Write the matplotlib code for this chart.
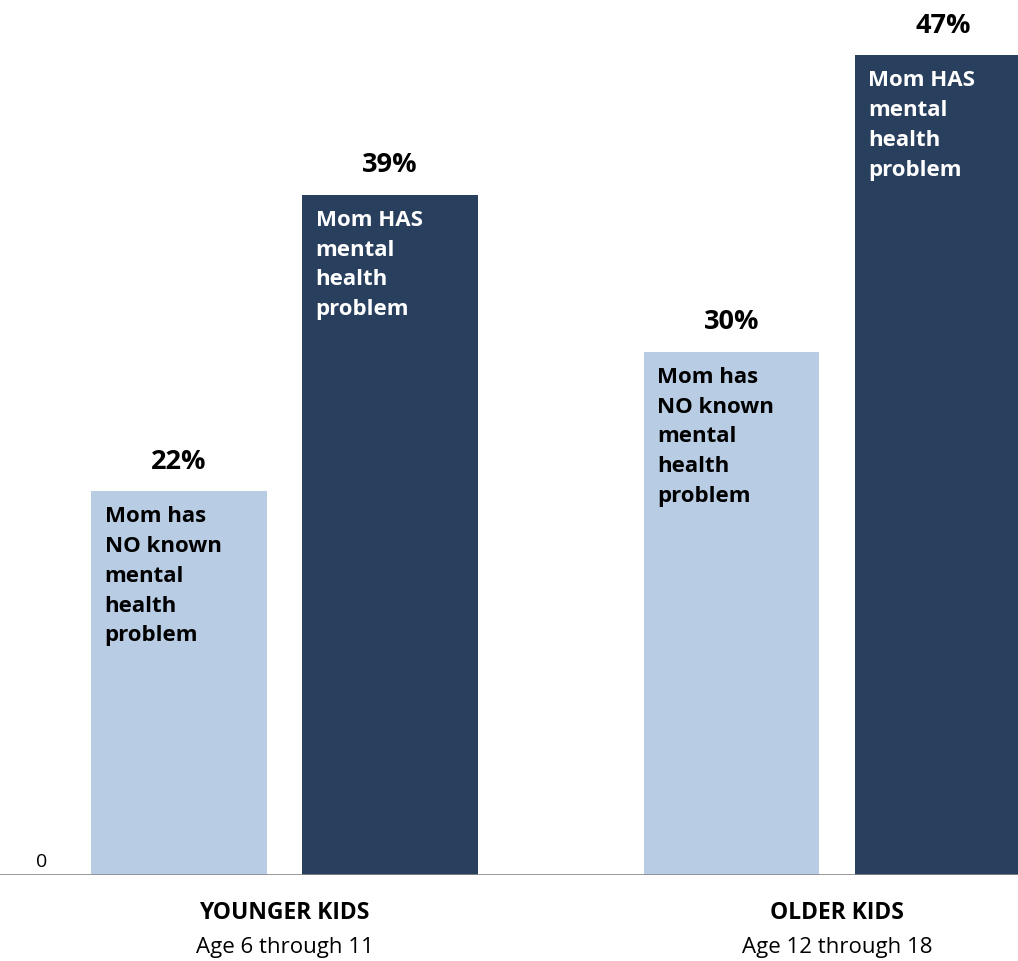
import matplotlib
matplotlib.use("Agg")
import matplotlib.pyplot as plt

groups = ["YOUNGER KIDS", "OLDER KIDS"]
subs = ["Age 6 through 11", "Age 12 through 18"]
no_vals = [22, 30]
has_vals = [39, 47]
no_label = "Mom has\nNO known\nmental\nhealth\nproblem"
has_label = "Mom HAS\nmental\nhealth\nproblem"

plt.rcParams['font.family'] = ['Open Sans', 'DejaVu Sans']
fig = plt.figure(figsize=(10.18, 9.62), dpi=100)
ax = fig.add_axes([0, 86/962, 1, (876-4)/962])
light, dark = "#b8cce4", "#283f5e"
w, off = 0.3185, 0.192
centers = [0, 1.006]
for i in range(2):
    for v, c, lab, dx in [(no_vals[i], light, no_label, -off), (has_vals[i], dark, has_label, off)]:
        x = centers[i] + dx
        ax.bar(x, v, width=w, color=c)
        ax.text(x, v + 1.0, f"{v}%", ha="center", va="bottom", fontsize=19.5, fontweight="bold")
        ax.text(x - w/2 + 0.024, v - 0.8, lab, ha="left", va="top", fontsize=16,
                fontweight="bold", color="white" if c == dark else "black", linespacing=1.55)
    ax.text(centers[i], -1.45, groups[i], ha="center", va="top", fontsize=16.5, fontweight="bold")
    ax.text(centers[i], -3.5, subs[i], ha="center", va="top", fontsize=16)
ax.set_xlim(-284.5/549.5, (1018-284.5)/549.5)
ax.set_ylim(0, 50)
ax.axis("off")
ax.axhline(0, color="#888888", lw=1.2)
ax.text(42/549.5 - 284.5/549.5, 0.3, "0", ha="center", va="bottom", fontsize=14)
fig.savefig("out.png")
